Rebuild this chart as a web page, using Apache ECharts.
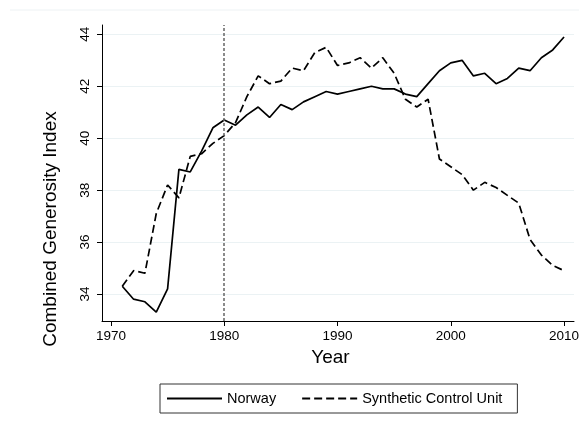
<!DOCTYPE html>
<html>
<head>
<meta charset="utf-8">
<script src="https://cdn.jsdelivr.net/npm/echarts@6/dist/echarts.min.js"></script>
<style>
  html, body { margin: 0; padding: 0; background: #fff; }
  #chart { width: 579px; height: 424px; }
</style>
</head>
<body>
<div id="chart"></div>
<script>
// data
const years = [1971, 1972, 1973, 1974, 1975, 1976, 1977, 1978, 1979, 1980,
  1981, 1982, 1983, 1984, 1985, 1986, 1987, 1988, 1989, 1990,
  1991, 1992, 1993, 1994, 1995, 1996, 1997, 1998, 1999, 2000,
  2001, 2002, 2003, 2004, 2005, 2006, 2007, 2008, 2009, 2010];

const norway = [34.3, 33.8, 33.7, 33.3, 34.2, 38.8, 38.7, 39.5, 40.4, 40.7,
  40.5, 40.9, 41.2, 40.8, 41.3, 41.1, 41.4, 41.6, 41.8, 41.7,
  41.8, 41.9, 42.0, 41.9, 41.9, 41.7, 41.6, 42.1, 42.6, 42.9,
  43.0, 42.4, 42.5, 42.1, 42.3, 42.7, 42.6, 43.1, 43.4, 43.9];

const synthetic = [34.3, 34.9, 34.8, 37.1, 38.2, 37.7, 39.3, 39.4, 39.8, 40.1,
  40.6, 41.6, 42.4, 42.1, 42.2, 42.7, 42.6, 43.3, 43.5, 42.8,
  42.9, 43.1, 42.7, 43.1, 42.5, 41.5, 41.2, 41.5, 39.2, 38.9,
  38.6, 38.0, 38.3, 38.1, 37.8, 37.5, 36.1, 35.5, 35.1, 34.9];

const xTicks = [1970, 1980, 1990, 2000, 2010];
const yTicks = [34, 36, 38, 40, 42, 44];
const treatmentYear = 1980;

const seriesNames = ['Norway', 'Synthetic Control Unit'];

const chart = echarts.init(document.getElementById('chart'));
const font = 'Liberation Sans, Arial, sans-serif';

const option = {
  animation: false,
  backgroundColor: '#fff',
  grid: {
    left: 102,
    right: 5,
    top: 25,
    bottom: 103,
    containLabel: false,
    outerBoundsMode: 'none',
  },
  graphic: [
    {
      type: 'line',
      shape: { x1: 10, y1: 10, x2: 579, y2: 10 },
      style: { stroke: '#edf2f4', lineWidth: 1 },
      silent: true,
    },
  ],
  legend: {
    data: seriesNames,
    left: 160,
    top: 384,
    orient: 'horizontal',
    padding: [7, 15, 7, 6],
    itemGap: 25,
    itemWidth: 55,
    itemHeight: 14,
    borderColor: '#333',
    borderWidth: 1,
    borderRadius: 0,
    itemStyle: { opacity: 0, color: 'transparent', borderWidth: 0 },
    textStyle: { fontFamily: font, fontSize: 14.5, color: '#000' },
  },
  xAxis: {
    type: 'value',
    min: 1969.21,
    max: 2010.88,
    name: 'Year',
    nameLocation: 'middle',
    nameGap: 27,
    nameTextStyle: {
      fontFamily: font,
      fontSize: 19,
      color: '#000',
      padding: [0, 15, 0, 0],
    },
    axisLine: { onZero: false, lineStyle: { color: '#000', width: 1 } },
    axisTick: {
      show: true,
      length: 5,
      customValues: xTicks,
      lineStyle: { color: '#000' },
    },
    axisLabel: {
      customValues: xTicks,
      margin: 8,
      fontFamily: font,
      fontSize: 13.5,
      color: '#000',
      formatter: (v) => String(v),
    },
    splitLine: { show: false },
  },
  yAxis: {
    type: 'value',
    min: 32.96,
    max: 44.36,
    name: 'Combined Generosity Index',
    nameLocation: 'middle',
    nameRotate: 90,
    nameGap: 42,
    nameTextStyle: {
      fontFamily: font,
      fontSize: 19,
      color: '#000',
      padding: [0, 112, 0, 0],
    },
    axisLine: { show: true, onZero: false, lineStyle: { color: '#000', width: 1 } },
    axisTick: {
      show: true,
      length: 5,
      customValues: yTicks,
      lineStyle: { color: '#000' },
    },
    axisLabel: {
      customValues: yTicks,
      rotate: 90,
      margin: 10,
      fontFamily: font,
      fontSize: 13.5,
      color: '#000',
      formatter: (v) => String(v),
    },
    splitLine: {
      show: true,
      lineStyle: { color: '#ebf2f4', width: 1 },
    },
  },
  series: [
    {
      name: seriesNames[0],
      type: 'line',
      data: years.map((y, i) => [y, norway[i]]),
      symbol: 'none',
      itemStyle: { color: '#000' },
      lineStyle: { color: '#000', width: 1.7, type: 'solid' },
      z: 3,
      markLine: {
        silent: true,
        symbol: ['none', 'none'],
        label: { show: false },
        lineStyle: { color: '#666', width: 1.5, type: [3, 2] },
        data: [{ xAxis: treatmentYear }],
      },
    },
    {
      name: seriesNames[1],
      type: 'line',
      data: years.map((y, i) => [y, synthetic[i]]),
      symbol: 'none',
      itemStyle: { color: '#000' },
      lineStyle: { color: '#000', width: 1.7, type: [8, 4] },
      z: 3,
    },
  ],
};

chart.setOption(option);
</script>
</body>
</html>
